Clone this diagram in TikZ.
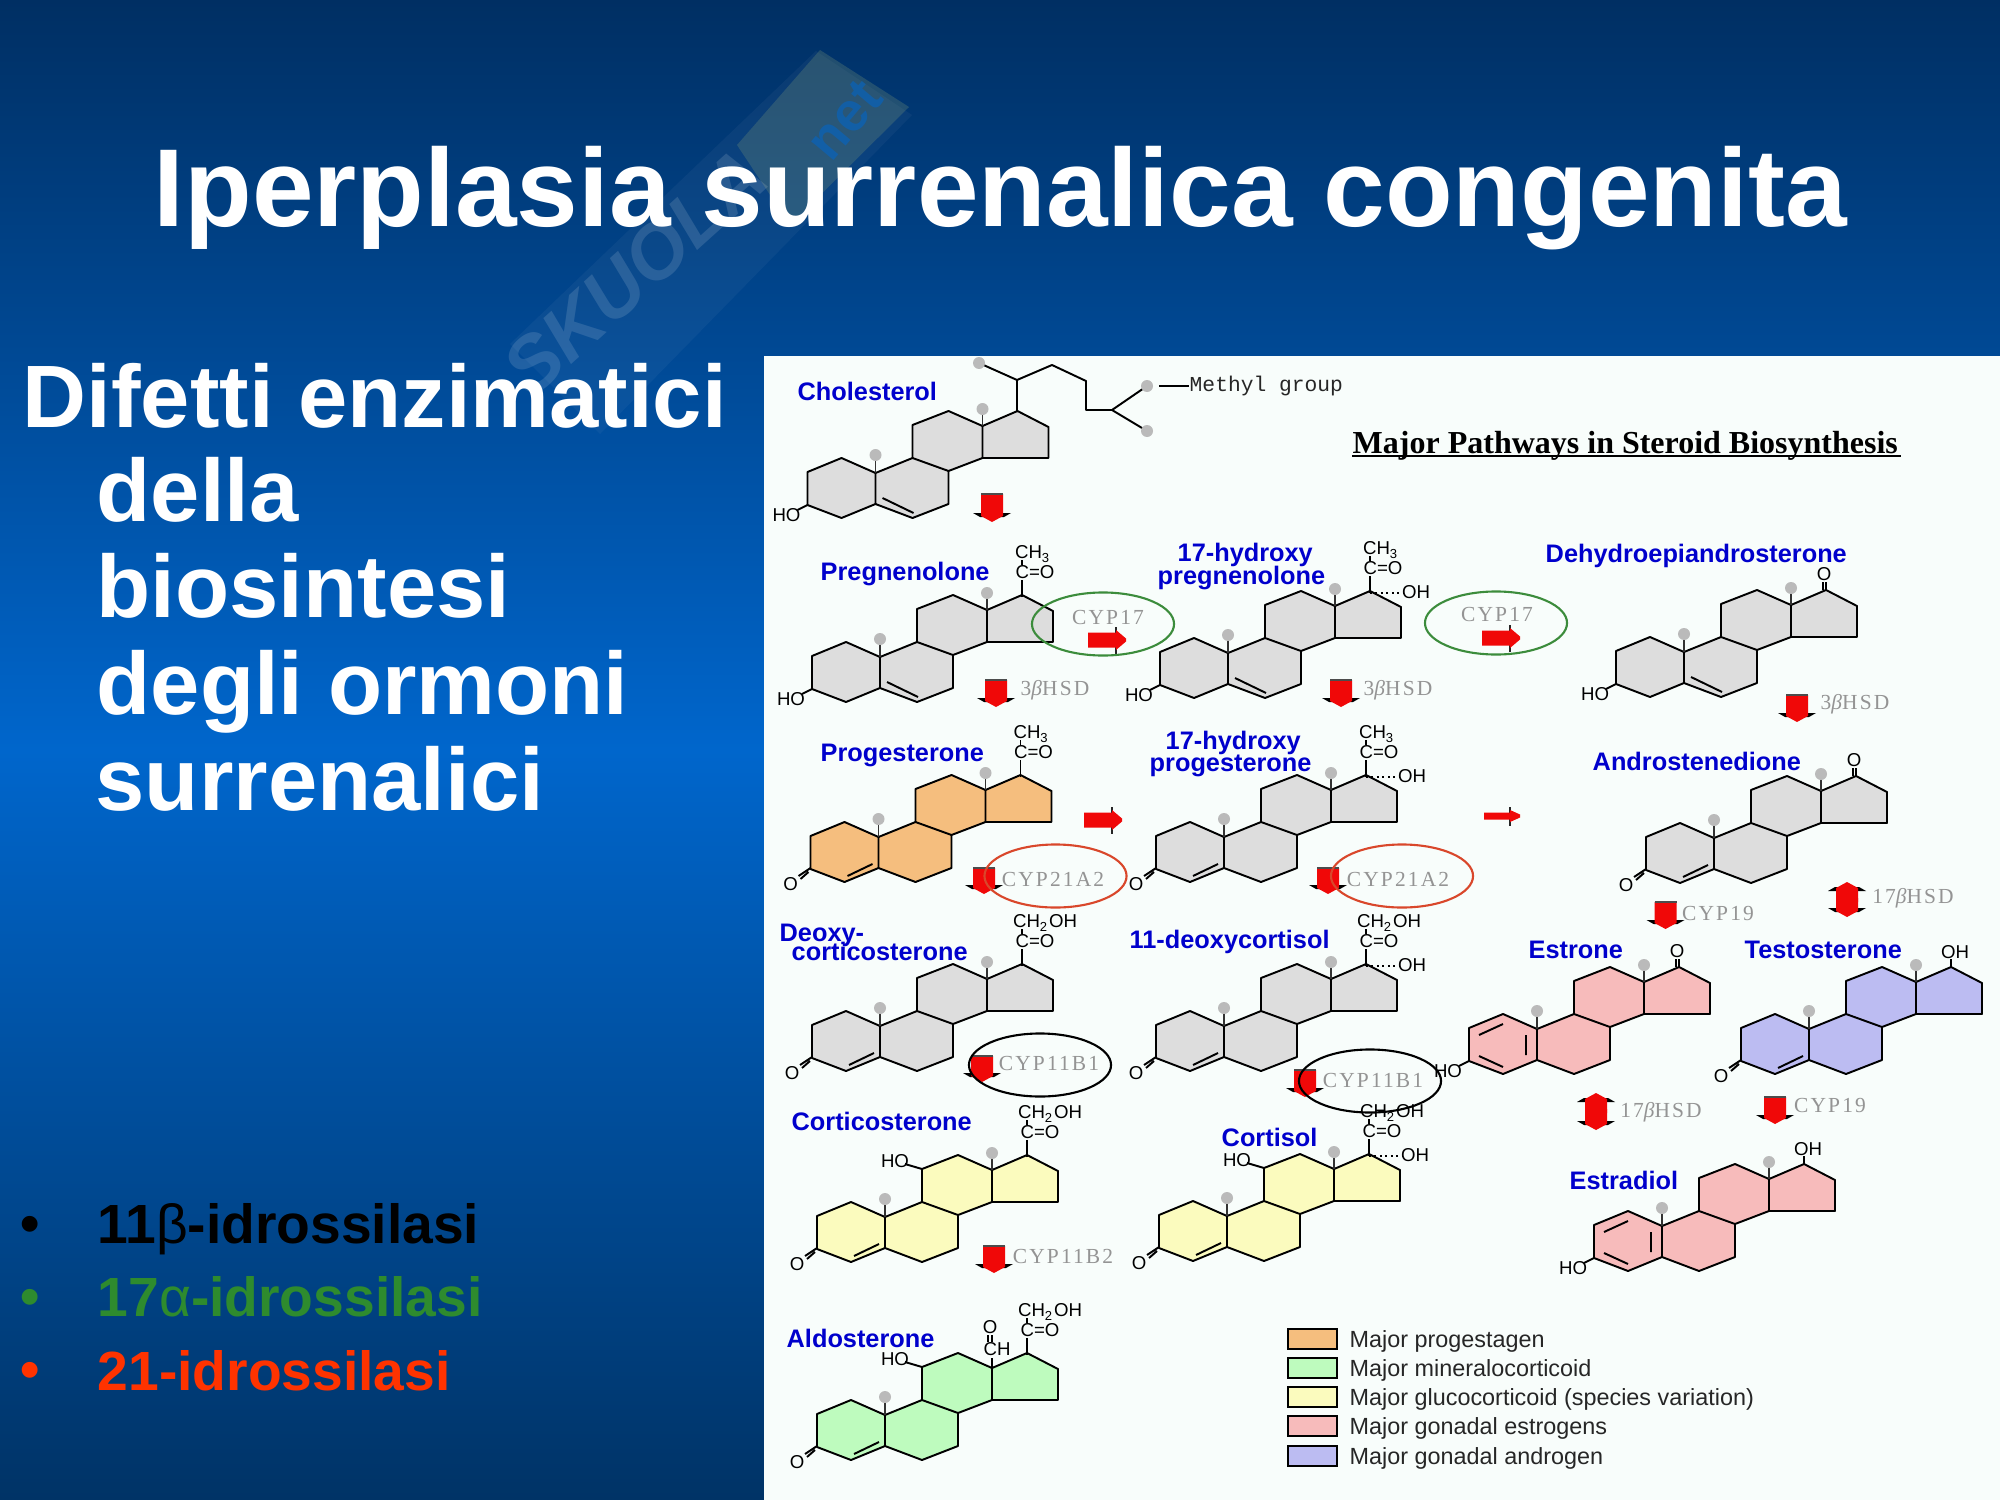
\documentclass[tikz,border=0pt]{standalone}
\usepackage{fontspec}
\usetikzlibrary{shapes.geometric}
\setmainfont{Liberation Sans}
\setmonofont{Liberation Mono}
\newfontfamily\enzfont[LetterSpace=10]{Liberation Serif}
\newfontfamily\headfont{Liberation Serif}

\definecolor{bgdark}{HTML}{002F63}
\definecolor{bgmid}{HTML}{0066CC}
\definecolor{bgend}{HTML}{003366}
\definecolor{panelbg}{HTML}{F8FDFB}
\definecolor{labblue}{HTML}{0000CC}
\definecolor{stgrey}{HTML}{DDDDDD}
\definecolor{storange}{HTML}{F5BE7E}
\definecolor{styellow}{HTML}{FBFBBE}
\definecolor{stpink}{HTML}{F7BBBB}
\definecolor{stlilac}{HTML}{BCBCF2}
\definecolor{stgreen}{HTML}{BEFBBE}
\definecolor{ringgreen}{HTML}{3C8C3C}
\definecolor{ringred}{HTML}{D9472B}
\definecolor{blgreen}{HTML}{2E8B2E}
\definecolor{blred}{HTML}{FF3300}
\definecolor{arrred}{HTML}{F00808}

\tikzset{
  ringln/.style={line width=.55pt,line join=round},
  chem/.style={font=\fontsize{5.3}{6}\selectfont,inner sep=0pt,text=black},
  lab/.style={font=\fontsize{7.2}{8}\selectfont\bfseries,text=labblue,anchor=base west,inner sep=0pt},
  enz/.style={font=\fontsize{6.1}{7}\enzfont,text=black!42,inner sep=0pt},
  big/.style={font=\fontsize{25.2}{28}\selectfont\bfseries,text=white,anchor=base west,inner sep=0pt},
  blt/.style={font=\fontsize{15.7}{18}\selectfont\bfseries,anchor=base west,inner sep=0pt},
  oval/.style={ellipse,draw,line width=.6pt,minimum width=1.42cm,minimum height=.63cm,inner sep=0pt},
  legbox/.style={draw,line width=.55pt,minimum width=.49cm,minimum height=.195cm,inner sep=0pt},
  legtx/.style={font=\fontsize{6.65}{8}\selectfont,text=black!85,anchor=west,inner sep=0pt}}

% steroid rings, origin on the A/B junction
\newcommand{\steroid}[4]{%
  \begin{scope}[shift={(#2,#3)}]
    \coordinate (#1) at (0,0);
    \draw[ringln,fill=#4] (-68,-1) -- (-34,-15) -- (0,0) -- (37,-15) -- (37,-48) -- (73,-62) -- (107,-47) -- (142,-62) -- (173,-46) -- (173,-15) -- (107,-15) -- (73,-2) -- (73,31) -- (37,45) -- (0,31) -- (-34,45) -- (-68,32) -- cycle;
    \draw[ringln] (0,0) -- (0,31) (37,-15) -- (73,-2) (107,-47) -- (107,-15);
    \draw[ringln,black!80] (0,0) -- (0,-14);
    \fill[black!27] (0,-18) circle (6);
  \end{scope}}
\newcommand{\metC}[1]{\begin{scope}[shift={(#1)}]
    \draw[ringln,black!80] (107,-47) -- (107,-60);
    \fill[black!27] (107,-64) circle (6);
  \end{scope}}
\newcommand{\dbA}[1]{\draw[ringln,shift={(#1)}] (-31,39) -- (-6,27);}
\newcommand{\dbB}[1]{\draw[ringln,shift={(#1)}] (7,25) -- (38,40);}
\newcommand{\aroA}[1]{\draw[ringln,shift={(#1)}] (-58,6) -- (-34,-5) (-11,6) -- (-11,26) (-58,27) -- (-34,38);}
\newcommand{\hoA}[1]{\begin{scope}[shift={(#1)}]
    \draw[ringln] (-68,32) -- (-78,37);
    \node[chem] (#1-ho) at (-89,42) {HO};
  \end{scope}}
\newcommand{\oxoA}[1]{\begin{scope}[shift={(#1)}]
    \draw[ringln] (-68,31) -- (-80,39) (-70,35) -- (-78,42);
    \node[chem] (#1-ox) at (-88,47) {O};
  \end{scope}}
\newcommand{\sidechn}[3]{\begin{scope}[shift={(#1)}]
    \draw[ringln] (142,-60) -- (142,-77) (142,-92) -- (142,-97);
    \node[chem] (#1-co) at (155,-85) {C=O};
    \node[chem] (#1-top) at (#2,-103) {#3};
  \end{scope}}
\newcommand{\ohD}[1]{\begin{scope}[shift={(#1)}]
    \draw[ringln,densely dotted] (142,-60) -- (176,-60);
    \node[chem] (#1-oh) at (188,-61) {OH};
  \end{scope}}
\newcommand{\ketoD}[1]{\begin{scope}[shift={(#1)}]
    \draw[ringln] (139,-70) -- (139,-62) (142,-70) -- (142,-62);
    \node[chem] (#1-ke) at (140,-78) {O};
  \end{scope}}
\newcommand{\upOH}[1]{\begin{scope}[shift={(#1)}]
    \draw[ringln] (142,-62) -- (142,-70);
    \node[chem] (#1-up) at (146,-77) {OH};
  \end{scope}}
\newcommand{\hoC}[1]{\begin{scope}[shift={(#1)}]
    \draw[ringln] (37,-48) -- (20,-53);
    \node[chem] (#1-hc) at (10,-56) {HO};
  \end{scope}}

% red block arrows
\newcommand{\dnarr}[3]{%
  \fill[black] (#1-19,#3-9) -- (#1+19,#3-9) -- (#1+12,#3-5) -- (#1-12,#3-5) -- cycle;
  \fill[arrred] (#1-11,#2) -- (#1+11,#2) -- (#1+11,#3-6) -- (#1,#3) -- (#1-11,#3-6) -- cycle;
  \draw[line width=.3pt,black!70] (#1-11,#2) -- (#1+11,#2);}
\newcommand{\uparr}[3]{%
  \fill[black] (#1-19,#2+9) -- (#1+19,#2+9) -- (#1+12,#2+5) -- (#1-12,#2+5) -- cycle;
  \fill[arrred] (#1-11,#3) -- (#1+11,#3) -- (#1+11,#2+6) -- (#1,#2) -- (#1-11,#2+6) -- cycle;}
\newcommand{\rtarr}[4]{%
  \fill[black!85] (#2-11,#3-#4-6) rectangle (#2-9,#3+#4+6);
  \fill[arrred] (#1,#3-#4) -- (#2-10,#3-#4) -- (#2-10,#3-#4-2.5) -- (#2,#3-1.5) -- (#2,#3+1.5) -- (#2-10,#3+#4+2.5) -- (#2-10,#3+#4) -- (#1,#3+#4) -- cycle;}

\begin{document}
\begin{tikzpicture}[x=.01cm,y=-.01cm]
  \useasboundingbox (0,0) rectangle (2000,1500);
  \fill[top color=bgdark,bottom color=bgend,middle color=bgmid] (0,0) rectangle (2000,1500);

  % watermark
  \fill[white,opacity=.04] (510,344) -- (816,51) -- (912,115) -- (600,434) -- cycle;
  \fill[black!30!yellow!40!teal,opacity=.3] (820,50) -- (909,107) -- (790,225) -- (737,145) -- cycle;
  \node[font=\fontsize{21.8}{24}\selectfont\bfseries\itshape,text=white,opacity=.13,rotate=42,inner sep=0pt] (skuola) at (635,272) {SKUOLA};
  \node[font=\fontsize{15.7}{18}\selectfont\bfseries,text=bgmid,opacity=.55,rotate=50,inner sep=0pt] (netmark) at (845,120) {net};

  \node[font=\fontsize{31.5}{36}\selectfont\bfseries,text=white,anchor=base west,inner sep=0pt] (title) at (153,227) {Iperplasia surrenalica congenita};
  \node[big] (diff) at (22,427) {Difetti enzimatici};
  \foreach \nm/\yy/\tx in {della/521/della,biosin/617/biosintesi,degli/714/degli ormoni}
    \node[big] (\nm) at (96,\yy) {\tx};
  \node[big] (surr) at (95,810) {surrenalici};

  \node[blt,text=black] (dot1) at (20,1242) {•};
  \node[blt,text=blgreen] (dot2) at (20,1315) {•};
  \node[blt,text=blred] (dot3) at (20,1388) {•};
  \node[blt,text=black] (enzb) at (97,1243) {11{\mdseries β}-idrossilasi};
  \node[blt,text=blgreen] (enza) at (97,1316) {17{\mdseries α}-idrossilasi};
  \node[blt,text=blred] (enzc) at (97,1390) {21-idrossilasi};

  \fill[panelbg] (764,356) rectangle (2000,1500);

  \foreach \nm/\x/\y/\fc in {chol/875.5/473/stgrey,preg/880/657/stgrey,hpreg/1228/653/stgrey,dhea/1684/652/stgrey,
      prog/878.5/837/storange,hprog/1224/837/stgrey,andro/1714/838/stgrey,doc/880/1026/stgrey,deox/1224/1026/stgrey,
      estr/1537/1029/stpink,testo/1809/1029/stlilac,cort/885/1217/styellow,csol/1227/1216/styellow,
      edio/1662/1226/stpink,aldo/885/1415/stgreen}
    \steroid{\nm}{\x}{\y}{\fc};
  \foreach \nm in {chol,preg,hpreg,dhea,prog,hprog,andro,doc,deox,estr,testo,cort,csol,edio} \metC{\nm};
  \foreach \nm in {chol,preg,hpreg,dhea} {\hoA{\nm} \dbB{\nm}};
  \foreach \nm in {prog,hprog,andro,doc,deox,testo,cort,csol,aldo} {\oxoA{\nm} \dbA{\nm}};
  \foreach \nm in {estr,edio} {\hoA{\nm} \aroA{\nm}};
  \foreach \nm in {preg,hpreg,prog,hprog} \sidechn{\nm}{153}{CH\textsubscript{3}};
  \foreach \nm in {doc,deox,cort,csol,aldo} \sidechn{\nm}{165}{CH\textsubscript{2}OH};
  \foreach \nm in {hpreg,hprog,deox,csol} \ohD{\nm};
  \foreach \nm in {dhea,andro,estr} \ketoD{\nm};
  \foreach \nm in {testo,edio} \upOH{\nm};
  \foreach \nm in {cort,csol,aldo} \hoC{\nm};

  % cholesterol tail
  \draw[ringln] (1017,412) -- (1017,380) -- (979,363) (1017,380) -- (1052,365) -- (1086,381) -- (1086,410) -- (1112,410) -- (1147,386) (1112,410) -- (1147,431);
  \fill[black!27] (979,363) circle (6) (1147,386) circle (6) (1147,431) circle (6);
  \node[font=\fontsize{6.05}{7}\ttfamily,inner sep=0pt,anchor=west,text=black!85] (methyl) at (1189,386) {Methyl group};
  \draw[ringln] (1159,386) -- (methyl.west);

  % aldosterone aldehyde
  \draw[ringln] (885+107,1415-47) -- (885+107,1415-57);
  \draw[ringln] (885+103,1415-80) -- (885+103,1415-73) (885+107,1415-80) -- (885+107,1415-73);
  \node[chem] (aldo-o) at (885+105,1415-88) {O};
  \node[chem] (aldo-ch) at (885+112,1415-66) {CH};

  \foreach \nm/\x/\y/\tx in {lchol/797/400/Cholesterol,lpreg/820/580/Pregnenolone,lhp1/1177/561/17-hydroxy,lhp2/1157/584/pregnenolone,
      ldhea/1545/562/Dehydroepiandrosterone,lprog/820/761/Progesterone,lhq1/1165/749/17-hydroxy,lhq2/1149/771/progesterone,
      landro/1592/770/Androstenedione,ldoc1/779/941/Deoxy-,ldoc2/791/960/corticosterone,ldeox/1129/948/11-deoxycortisol,
      lestr/1528/958/Estrone,ltesto/1744/958/Testosterone,lcort/791/1130/Corticosterone,lcsol/1221/1146/Cortisol,
      ledio/1569/1189/Estradiol,laldo/786/1347/Aldosterone}
    \node[lab] (\nm) at (\x,\y) {\tx};

  \node[font=\fontsize{9.1}{11}\headfont\bfseries,inner sep=0pt,anchor=base west] (head) at (1352,453) {Major Pathways in Steroid Biosynthesis};
  \draw[line width=.5pt] (1352,456) -- (1901,456);

  % arrows
  \foreach \x/\ya/\yb in {992/494/522,996/680/707,1341/680/707,1797/695/722,984/868/894,1328/868/894,982/1056/1082,1305/1070/1097,1665.5/902/929,1775/1097/1124,994/1246/1273}
    \dnarr{\x}{\ya}{\yb};
  \foreach \x/\ya/\yb in {1847/882/917,1596/1093/1130} {\dnarr{\x}{\ya+16}{\yb} \uparr{\x}{\ya}{\ya+20}};
  \rtarr{1088}{1126}{640}{7.5}
  \rtarr{1482}{1520}{638}{7.5}
  \rtarr{1084}{1122}{820}{7.5}
  \rtarr{1484}{1520}{816}{3.5}

  \foreach \nm/\x/\y/\tx in {ez1/1108/617/CYP17,ez2/1497/614/CYP17,ez3/1055/690/3{\itshape β}HSD,ez4/1398/690/3{\itshape β}HSD,ez5/1855/704/3{\itshape β}HSD,
      ez6/1053/879/CYP21A2,ez7/1398/879/CYP21A2,ez8/1049/1063/CYP11B1,ez9/1373/1080/CYP11B1,ez10/1718/913/CYP19,
      ez11/1913/898/17{\itshape β}HSD,ez12/1661/1112/17{\itshape β}HSD,ez13/1830/1105/CYP19,ez14/1063/1256/CYP11B2}
    \node[enz] (\nm) at (\x,\y) {\tx};

  \node[oval,draw=ringgreen] (ov1) at (1103,624) {};
  \node[oval,draw=ringgreen] (ov2) at (1496,623) {};
  \node[oval,draw=ringred] (ov3) at (1055.5,876) {};
  \node[oval,draw=ringred] (ov4) at (1402,876) {};
  \node[oval,draw=black] (ov5) at (1040,1065) {};
  \node[oval,draw=black] (ov6) at (1370,1081) {};

  % legend
  \foreach \nm/\yy/\fc/\tx in {prg/1339/storange/Major progestagen,min/1368/stgreen/Major mineralocorticoid,glu/1397/styellow/Major glucocorticoid (species variation),
      est/1426/stpink/Major gonadal estrogens,and/1456/stlilac/Major gonadal androgen} {
    \node[legbox,fill=\fc] (box\nm) at (1312.5,\yy) {};
    \node[legtx] (leg\nm) at (1349,\yy+2) {\tx};
  }
\end{tikzpicture}
\end{document}
